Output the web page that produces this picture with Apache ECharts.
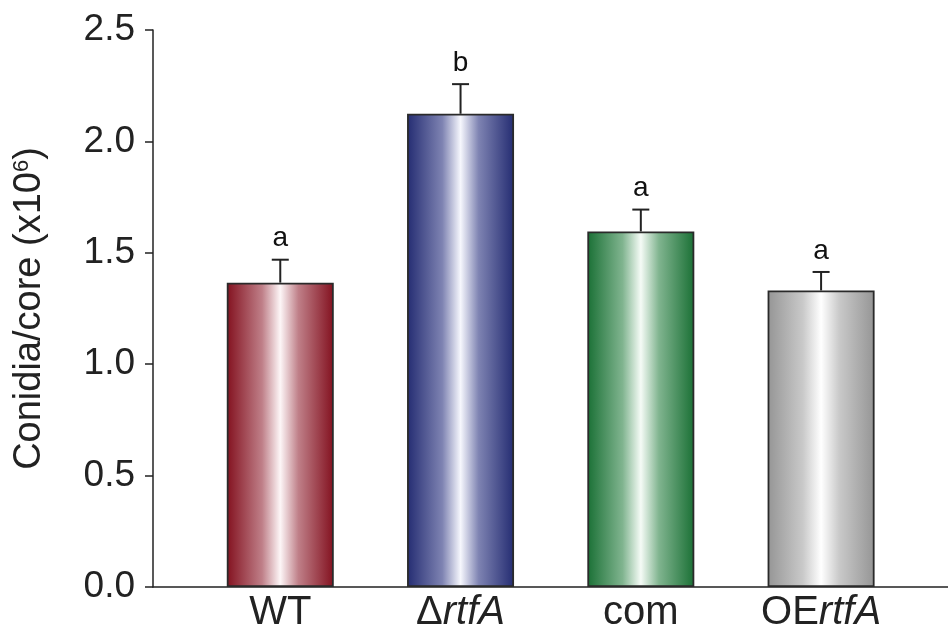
<!DOCTYPE html>
<html><head><meta charset="utf-8">
<script src="https://cdn.jsdelivr.net/npm/echarts@6/dist/echarts.min.js"></script>
<style>html,body{margin:0;padding:0;background:#fff}#c{width:948px;height:633px}</style>
</head><body><div id="c"></div>
<script>
const categories = ['WT', 'ΔrtfA', 'com', 'OErtfA'];
const means = [1.366, 2.124, 1.596, 1.331];
const errors = [0.103, 0.133, 0.098, 0.083];
const letters = ['a', 'b', 'a', 'a'];
const yTicks = [0, 0.5, 1.0, 1.5, 2.0, 2.5];
const edgeColors = ['#83111f', '#242c72', '#1a7035', '#959595'];
const midColors = ['#bf7f88', '#7e83b2', '#80b48f', '#c9c9c9'];
const centerColors = ['#fdf6f7', '#f6f7fd', '#f5fbf6', '#ffffff'];

const FONT = 'Liberation Sans, Arial, Helvetica, sans-serif';
const labelRich = {
  n: {fontFamily: FONT, fontSize: 40, color: '#222'},
  i: {fontFamily: FONT, fontSize: 40, fontStyle: 'italic', color: '#222'}
};
function fmtCat(name) {
  if (name === 'ΔrtfA') return '{n|Δ}{i|rtfA}';
  if (name === 'OErtfA') return '{n|OE}{i|rtfA}';
  return '{n|' + name + '}';
}

const chart = echarts.init(document.getElementById('c'), null, {renderer: 'canvas'});
const barData = means.map((v, i) => ({
  value: [i, v],
  itemStyle: {
    color: new echarts.graphic.LinearGradient(0, 0, 1, 0, [
      {offset: 0, color: edgeColors[i]},
      {offset: 0.33, color: midColors[i]},
      {offset: 0.5, color: centerColors[i]},
      {offset: 0.67, color: midColors[i]},
      {offset: 1, color: edgeColors[i]}
    ]),
    borderColor: '#2a2a2a', borderWidth: 1.8
  }
}));

chart.setOption({
  animation: false,
  grid: {left: 153, right: 0, top: 30, bottom: 45, containLabel: false},
  xAxis: {
    type: 'value', min: -0.706, max: 3.704,
    axisLine: {show: true, onZero: false, lineStyle: {color: '#222', width: 1.5}},
    axisTick: {show: false},
    splitLine: {show: false},
    axisLabel: {
      customValues: [0, 1, 2, 3], margin: 6,
      formatter: v => fmtCat(categories[Math.round(v)]),
      rich: labelRich
    }
  },
  yAxis: {
    type: 'value', min: 0, max: 2.5, interval: 0.5,
    name: 'Conidia/core (x10{s|6})',
    nameLocation: 'middle', nameGap: 104, nameRotate: 90,
    nameTextStyle: {fontFamily: FONT, fontSize: 38, color: '#222',
      rich: {s: {fontSize: 22, verticalAlign: 'top', padding: [0, 0, 16, 0], fontFamily: FONT, color: '#222'}}},
    axisLine: {show: true, onZero: false, lineStyle: {color: '#222', width: 1.5}},
    axisTick: {show: true, inside: false, length: 8, lineStyle: {color: '#222', width: 1.5}},
    splitLine: {show: false},
    axisLabel: {fontFamily: FONT, fontSize: 37, color: '#222', margin: 18,
      formatter: v => v.toFixed(1)}
  },
  series: [
    {type: 'bar', data: barData, barWidth: 107, z: 2},
    {
      type: 'custom', z: 1,
      data: means.map((v, i) => [i, v, errors[i]]),
      renderItem: function (params, api) {
        const x = api.value(0), m = api.value(1), e = api.value(2);
        const pTop = api.coord([x, m]);
        const pErr = api.coord([x, m + e]);
        const half = 8.5;
        return {type: 'group', children: [
          {type: 'line', shape: {x1: pTop[0], y1: pTop[1], x2: pErr[0], y2: pErr[1]}, style: {stroke: '#222', lineWidth: 2}},
          {type: 'line', shape: {x1: pErr[0] - half, y1: pErr[1], x2: pErr[0] + half, y2: pErr[1]}, style: {stroke: '#222', lineWidth: 2}},
          {type: 'text', x: pErr[0], y: pErr[1] - 7, style: {text: letters[params.dataIndex], fill: '#111',
            font: '28px "Liberation Sans", Arial', textAlign: 'center', textVerticalAlign: 'bottom'}}
        ]};
      }
    }
  ]
});
</script></body></html>
